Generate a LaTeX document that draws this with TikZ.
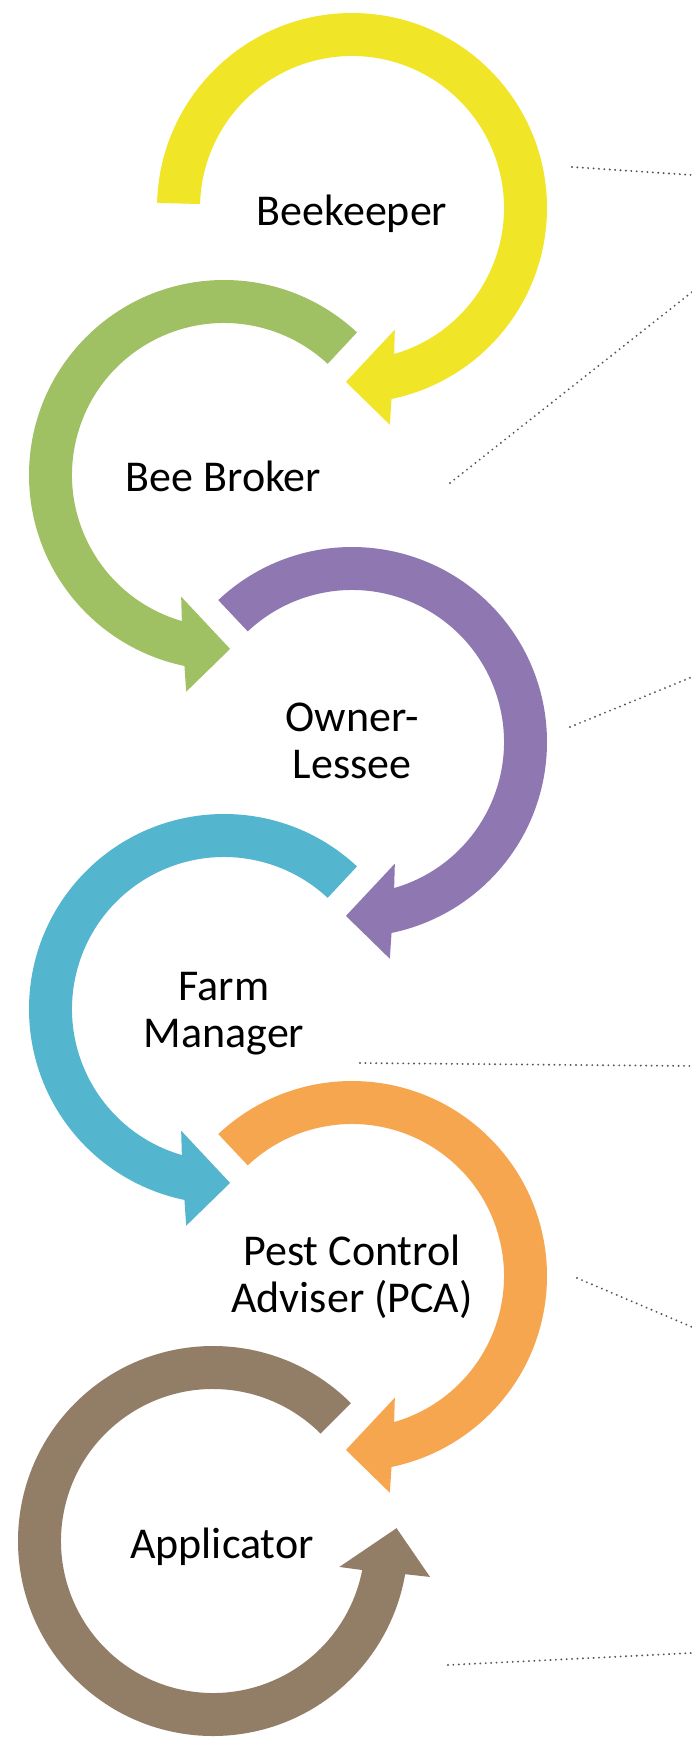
\documentclass[tikz,border=0pt]{standalone}
\usepackage{fontspec}
\setmainfont{Carlito}

\definecolor{ringyellow}{RGB}{240,229,39}
\definecolor{ringgreen}{RGB}{160,193,99}
\definecolor{ringpurple}{RGB}{143,119,178}
\definecolor{ringblue}{RGB}{84,181,207}
\definecolor{ringorange}{RGB}{247,166,80}
\definecolor{ringbrown}{RGB}{146,126,103}
\definecolor{leadergray}{RGB}{85,85,85}

% circular arrow with a band from radius 152 to 195
% #1 centre, #2 colour, #3 tail angle, #4 end of outer edge, #5 outer barb angle,
% #6 tip angle, #7 inner barb angle, #8 end of inner edge, #9 tip radius
\newcommand\cyclearrow[9]{%
  \fill[#2, shift={#1}]
    (#3:195pt) arc[start angle=#3, end angle=#4, radius=195pt]
    -- (#5:220pt) -- (#6:#9) -- (#7:129pt) -- (#8:152pt)
    arc[start angle=#8, end angle=#3, radius=152pt] -- cycle;
}

\tikzset{
  % anchor=base sits on the baseline of the last line
  roletext/.style={font=\fontsize{44}{47}\selectfont, align=center, inner sep=0pt, anchor=base},
  leader/.style={draw=leadergray, line width=2.1pt, line cap=round, dash pattern=on 0pt off 5.4pt},
}

\begin{document}
\begin{tikzpicture}[x=1pt, y=1pt]
  \fill[white] (0,0) rectangle (692,-1737);
  \useasboundingbox (0,0) rectangle (692,-1737);

  % the six circular arrows, top to bottom
  \cyclearrow{(352,-208)}{ringyellow}{178.5}{-78.3}{-80.1}{-92}{-70.6}{-73.9}{174pt}
  \cyclearrow{(224,-475)}{ringgreen}{47}{258.3}{260.1}{272}{250.6}{253.9}{174pt}
  \cyclearrow{(352,-742)}{ringpurple}{133.3}{-78.3}{-80.1}{-92}{-70.6}{-73.9}{174pt}
  \cyclearrow{(224,-1009)}{ringblue}{47}{258.3}{260.1}{272}{250.6}{253.9}{174pt}
  \cyclearrow{(352,-1276)}{ringorange}{133.3}{-78.3}{-80.1}{-92}{-70.6}{-73.9}{174pt}
  \cyclearrow{(213,-1541)}{ringbrown}{45}{350.2}{350.6}{364}{348.4}{349}{184pt}

  % role names
  \node[roletext] (beekeeper) at (352,-225) {Beekeeper};
  \node[roletext] (broker) at (223.5,-491) {Bee Broker};
  \node[roletext] (owner) at (352,-778) {Owner-\\Lessee};
  \node[roletext] (farm) at (224,-1047) {Farm\\Manager};
  \node[roletext] (pca) at (352,-1312) {Pest Control\\Adviser (PCA)};
  \node[roletext] (applicator) at (222,-1558) {Applicator};

  % dotted leader lines running off to the right
  \coordinate (l1a) at (572,-167);  \coordinate (l1b) at (692,-175);
  \coordinate (l2a) at (450,-483);  \coordinate (l2b) at (692,-292);
  \coordinate (l3a) at (570,-727);  \coordinate (l3b) at (692,-677);
  \coordinate (l4a) at (360,-1063); \coordinate (l4b) at (692,-1066);
  \coordinate (l5a) at (577,-1278); \coordinate (l5b) at (692,-1327);
  \coordinate (l6a) at (448,-1665); \coordinate (l6b) at (692,-1653);
  \draw[leader] (l1a) -- (l1b);
  \draw[leader] (l2a) -- (l2b);
  \draw[leader] (l3a) -- (l3b);
  \draw[leader] (l4a) -- (l4b);
  \draw[leader] (l5a) -- (l5b);
  \draw[leader] (l6a) -- (l6b);
\end{tikzpicture}
\end{document}
